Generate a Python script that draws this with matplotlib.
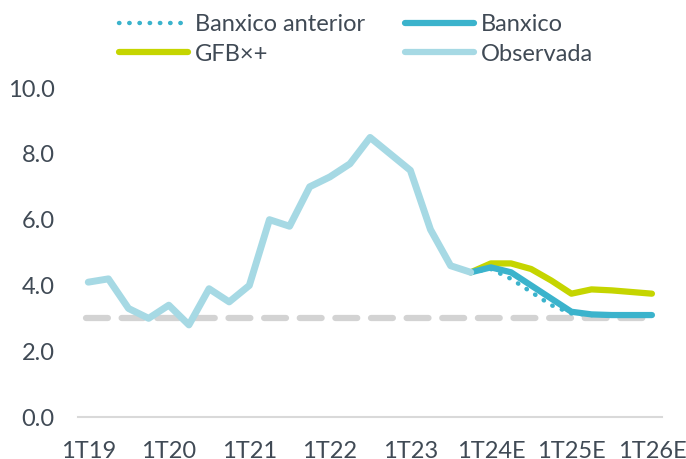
import numpy as np
import matplotlib
matplotlib.use('Agg')
import matplotlib.pyplot as plt

plt.rcParams['font.family'] = ['Lato', 'DejaVu Sans']

# quarterly labels (only yearly ones shown)
tick_labels = ['1T19', '1T20', '1T21', '1T22', '1T23', '1T24E', '1T25E', '1T26E']
n_quarters = 29

# observed inflation 1T19 .. 4T23
observada = [4.1, 4.2, 3.3, 3.0, 3.4, 2.8, 3.9, 3.5,
             4.0, 6.0, 5.8, 7.0, 7.3, 7.7, 8.5, 8.0,
             7.5, 5.7, 4.6, 4.4]
# forecasts 4T23 .. 1T26E
banxico = [4.4, 4.55, 4.4, 4.0, 3.6, 3.2, 3.12, 3.1, 3.1, 3.1]
banxico_ant = [4.4, 4.5, 4.2, 3.8, 3.4, 3.15, 3.1, 3.1, 3.1, 3.1]
gfb = [4.4, 4.67, 4.67, 4.5, 4.15, 3.75, 3.88, 3.85, 3.8, 3.75]
meta = 3.0

x_obs = np.arange(len(observada))
x_fc = np.arange(len(observada) - 1, n_quarters)

fig = plt.figure(figsize=(6.86, 4.59), dpi=100)
ax = fig.add_axes([0.114, 0.0915, 0.851, 0.7165])

ax.plot([-0.1, n_quarters - 1], [meta, meta], color='#d3d3d3', lw=4.5,
        dashes=(3.5, 2.2), dash_capstyle='round', zorder=1)
ax.plot(x_fc, gfb, color='#c5d500', lw=4.5, solid_capstyle='round', zorder=2)
ax.plot(x_fc, banxico_ant, color='#3bb3cc', lw=3.2, linestyle=(0, (0.1, 2.2)),
        dash_capstyle='round', zorder=3)
ax.plot(x_fc, banxico, color='#3bb3cc', lw=4.5, solid_capstyle='round', zorder=3)
ax.plot(x_obs, observada, color='#a6d9e4', lw=5, solid_capstyle='round', zorder=4)

ax.set_xlim(-0.5, n_quarters - 0.5)
ax.set_ylim(0, 10)
ax.set_yticks(np.arange(0, 11, 2))
ax.set_yticklabels(['%.1f' % v for v in np.arange(0, 11, 2)])
ax.set_xticks(np.arange(0, n_quarters, 4))
ax.set_xticklabels(tick_labels)
for s in ['top', 'right', 'left']:
    ax.spines[s].set_visible(False)
ax.spines['bottom'].set_color('#d9d9d9')
ax.spines['bottom'].set_linewidth(1.5)
ax.tick_params(axis='both', length=0, labelsize=17, colors='#404a55')
ax.tick_params(axis='x', pad=17)
ax.tick_params(axis='y', pad=17)

# legend
h1, = ax.plot([], [], color='#3bb3cc', lw=3.2, linestyle=(0, (0.1, 2.2)),
              dash_capstyle='round')
h2, = ax.plot([], [], color='#c5d500', lw=4.5, solid_capstyle='round')
h3, = ax.plot([], [], color='#3bb3cc', lw=4.5, solid_capstyle='round')
h4, = ax.plot([], [], color='#a6d9e4', lw=4.5, solid_capstyle='round')
leg = fig.legend([h1, h2, h3, h4],
                 ['Banxico anterior', 'GFB×+', 'Banxico', 'Observada'],
                 ncol=2, loc='upper left', bbox_to_anchor=(0.143, 1.015),
                 frameon=False, fontsize=17, handlelength=2.9,
                 handletextpad=0.3, columnspacing=1.7, labelspacing=0.35)
for t in leg.get_texts():
    t.set_color('#404a55')

fig.savefig('out.png', dpi=100)
